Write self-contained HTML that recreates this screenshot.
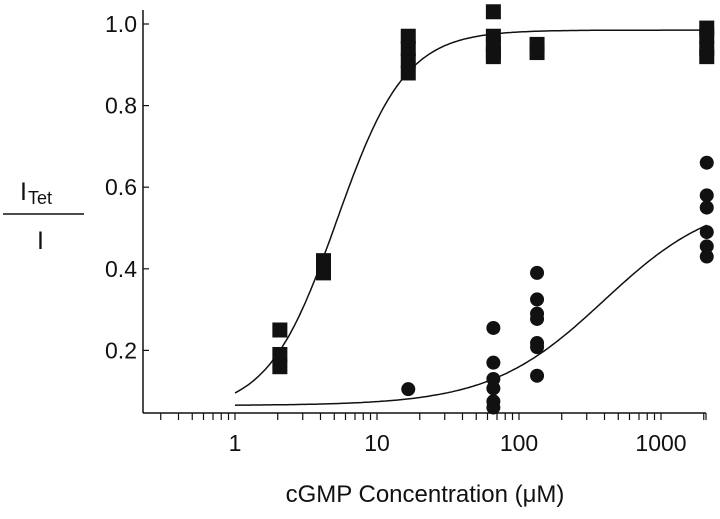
<!DOCTYPE html>
<html><head><meta charset="utf-8"><style>
html,body{margin:0;padding:0;background:#fff;}
svg text{font-family:"Liberation Sans",Arial,sans-serif;fill:#111;}
</style></head><body>
<svg id="chart" width="720" height="514" viewBox="0 0 720 514" xmlns="http://www.w3.org/2000/svg">
<g id="axes"></g>
<g id="curves"></g>
<g id="marks"></g>
<g>
<text x="20" y="200" font-size="25">I</text><text x="28" y="204" font-size="18">Tet</text>
<line x1="3" y1="214" x2="84" y2="214" stroke="#111" stroke-width="1.5"/>
<text x="37" y="249" font-size="25">I</text>
</g>
<text x="425" y="502" font-size="24" text-anchor="middle">cGMP Concentration (μM)</text>
</svg>
<script>
const xTickLabels = ["1","10","100","1000"];
const xTickValues = [1,10,100,1000];
const yTickValues = [0.2,0.4,0.6,0.8,1.0];
const squareX = [2.07,2.07,2.07,4.2,4.2,4.2,16.6,16.6,16.6,16.6,66,66,66,66,66,134,134,2100,2100,2100,2100];
const squareY = [0.25,0.19,0.16,0.42,0.40,0.39,0.97,0.94,0.91,0.88,1.03,0.97,0.95,0.93,0.92,0.95,0.93,0.99,0.97,0.94,0.92];
const circleX = [16.6,66,66,66,66,66,66,134,134,134,134,134,134,134,2100,2100,2100,2100,2100,2100];
const circleY = [0.105,0.255,0.17,0.13,0.107,0.075,0.06,0.39,0.325,0.29,0.277,0.218,0.208,0.138,0.66,0.58,0.55,0.49,0.455,0.43];
const fit1 = {base:0.05, top:0.985, K:5.2, n:1.8};
const fit2 = {base:0.065, top:0.58, K:397, n:1.08};

const NS="http://www.w3.org/2000/svg";
const X = v => 235 + Math.log10(v)*142;
const Y = v => 24 + (1-v)*408;
function mk(tag, attrs, parent){const e=document.createElementNS(NS,tag);for(const k in attrs)e.setAttribute(k,attrs[k]);parent.appendChild(e);return e;}
const axes=document.getElementById('axes');
let e;
e=mk('line',{x1:143,y1:413,x2:706,y2:413,stroke:'#111','stroke-width':1.5},axes);


e=mk('line',{x1:143,y1:10,x2:143,y2:413,stroke:'#111','stroke-width':1.5},axes);


for(let d=-1;d<=3;d++){for(let m=1;m<=9;m++){const v=m*Math.pow(10,d);const px=X(v);if(px<155||px>707)continue;
 e=mk('line',{x1:px,y1:413,x2:px,y2:420,stroke:'#111','stroke-width':1.2},axes);
 
 }}
e=mk('line',{x1:706,y1:413,x2:706,y2:420,stroke:'#111','stroke-width':1.2},axes);


xTickValues.forEach((v,i)=>{
 e=mk('text',{x:X(v),y:451,'font-size':23,'text-anchor':'middle'},axes);e.textContent=xTickLabels[i];
 
 
});
yTickValues.forEach(v=>{
 e=mk('line',{x1:143,y1:Y(v),x2:149,y2:Y(v),stroke:'#111','stroke-width':1.2},axes);
 
 
 e=mk('text',{x:137,y:Y(v)+8,'font-size':23,'text-anchor':'end'},axes);e.textContent=v.toFixed(1);
 
 
});
const curves=document.getElementById('curves');
function hill(f,x){const t=Math.pow(x/f.K,f.n);return f.base+(f.top-f.base)*t/(1+t);}
[fit1,fit2].forEach((f,i)=>{let d='';for(let k=0;k<=200;k++){const lx=k/200*Math.log10(2100);const x=Math.pow(10,lx);d+=(k?'L':'M')+X(x).toFixed(1)+' '+Y(hill(f,x)).toFixed(1);}
 e=mk('path',{d:d,fill:'none',stroke:'#111','stroke-width':1.5},curves);
 
 
});
const marks=document.getElementById('marks');
squareX.forEach((x,i)=>{
 e=mk('rect',{x:X(x)-7.5,y:Y(squareY[i])-7.5,width:15,height:15,fill:'#111'},marks);
 
 
});
circleX.forEach((x,i)=>{
 e=mk('circle',{cx:X(x),cy:Y(circleY[i]),r:7,fill:'#111'},marks);
 
 
});
</script>
</body></html>
